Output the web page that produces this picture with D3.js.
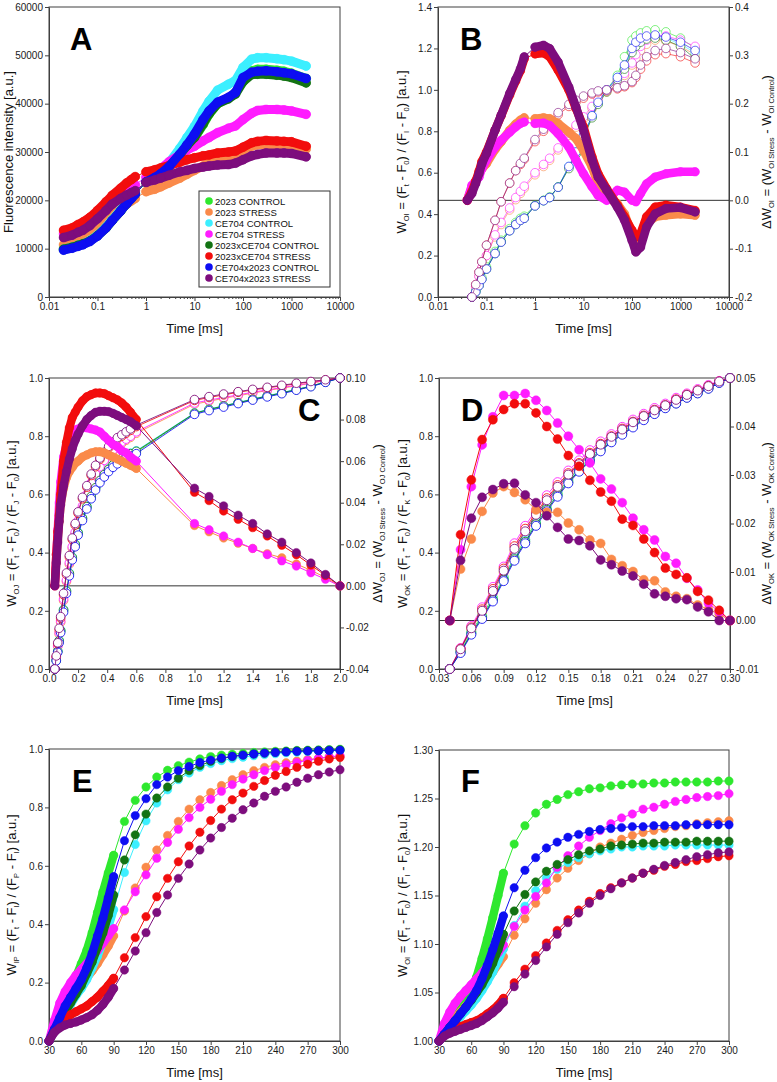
<!DOCTYPE html>
<html>
<head>
<meta charset="utf-8">
<title>OJIP transients</title>
<script src="https://cdn.jsdelivr.net/npm/d3@7/dist/d3.min.js"></script>
<style>
  body { margin: 0; background: #fff; }
  svg text { font-family: "Liberation Sans", Arial, sans-serif; }
</style>
</head>
<body>
<svg id="canvas" width="777" height="1082"></svg>
<script>
// series order = legend order of panel A
var seriesNames = ['2023 CONTROL', '2023 STRESS', 'CE704 CONTROL', 'CE704 STRESS',
  '2023xCE704 CONTROL', '2023xCE704 STRESS', 'CE704x2023 CONTROL', 'CE704x2023 STRESS'];
var seriesColors = ['#2ee82e', '#fa8a4a', '#3cefff', '#ff1cff', '#137313', '#f20d0d', '#0d0df2', '#7d0d7d'];
// the delta arrays only hold the stress lines, in this order
var stressRows = [1, 3, 5, 7];

// tick labels
var ticksLog = [0.01, 0.1, 1, 10, 100, 1000, 10000];
var ticksFluo = [0, 10000, 20000, 30000, 40000, 50000, 60000];
var ticksW14 = [0, 0.2, 0.4, 0.6, 0.8, 1.0, 1.2, 1.4];
var ticksDeltaB = [-0.2, -0.1, 0, 0.1, 0.2, 0.3, 0.4];
var ticksW10 = [0, 0.2, 0.4, 0.6, 0.8, 1.0];
var ticksTimeC = [0, 0.2, 0.4, 0.6, 0.8, 1.0, 1.2, 1.4, 1.6, 1.8, 2.0];
var ticksDeltaC = [-0.04, -0.02, 0, 0.02, 0.04, 0.06, 0.08, 0.10];
var ticksTimeD = [0.03, 0.06, 0.09, 0.12, 0.15, 0.18, 0.21, 0.24, 0.27, 0.30];
var ticksDeltaD = [-0.01, 0, 0.01, 0.02, 0.03, 0.04, 0.05];
var ticksTimeE = [30, 60, 90, 120, 150, 180, 210, 240, 270, 300];
var ticksWF = [1.00, 1.05, 1.10, 1.15, 1.20, 1.25, 1.30];

// A: fluorescence intensity
var timeA = [0.02, 0.03, 0.04, 0.05, 0.07, 0.1, 0.15, 0.2, 0.3, 0.4, 0.5, 0.6,
  1, 1.5, 2, 3, 5, 7, 10, 15, 20, 30, 50, 70, 100, 150, 200, 300, 500, 700, 1000, 2000];
var fluoA = [
  [9800, 10200, 10600, 10900, 11600, 12700, 14300, 15800, 17800, 19300, 20400, 21300, 23700, 24600, 25400, 26800, 29200, 31000, 32800, 35600, 37800, 40000, 41200, 42300, 45200, 46800, 47100, 47100, 46900, 46700, 46300, 45200],
  [10800, 11200, 11900, 12300, 13100, 14300, 15900, 17000, 18300, 19200, 19900, 20400, 21800, 22300, 22800, 23600, 24600, 25400, 26200, 27100, 27700, 28300, 28800, 29300, 30300, 31200, 31500, 31600, 31500, 31400, 31200, 30600],
  [9900, 10300, 10700, 11000, 11700, 12800, 14500, 16000, 18000, 19500, 20600, 21500, 24000, 25000, 26000, 27800, 30800, 33000, 35300, 38500, 40500, 42800, 44000, 44800, 47500, 49200, 49500, 49500, 49300, 49100, 48800, 47800],
  [13100, 13600, 14200, 14600, 15400, 16600, 18200, 19500, 20900, 21900, 22600, 23200, 24800, 25700, 26500, 28000, 29500, 30400, 31200, 32300, 33000, 34000, 34900, 35400, 36700, 38000, 38600, 38800, 38800, 38700, 38500, 37800],
  [9900, 10300, 10700, 11000, 11600, 12700, 14300, 15800, 17800, 19300, 20400, 21300, 23800, 24700, 25500, 27000, 29500, 31300, 33000, 35800, 37900, 40000, 41000, 42000, 44500, 46000, 46100, 46100, 45900, 45700, 45400, 44300],
  [13800, 14300, 15000, 15500, 16500, 17900, 19700, 21000, 22500, 23600, 24300, 24900, 25900, 26300, 26700, 27200, 27900, 28400, 28800, 29200, 29400, 29800, 30000, 30200, 31000, 31900, 32200, 32400, 32300, 32200, 32100, 31200],
  [9700, 10100, 10500, 10800, 11500, 12600, 14300, 15800, 17800, 19300, 20400, 21300, 23800, 24700, 25500, 27000, 29600, 31500, 33700, 36700, 38500, 40300, 41300, 42300, 45400, 46500, 46700, 46800, 46600, 46400, 46200, 45200],
  [12300, 12800, 13400, 13800, 14800, 16200, 17900, 19200, 20400, 21100, 21600, 22000, 23700, 24200, 24600, 25200, 25900, 26200, 26600, 26900, 27100, 27300, 27400, 27700, 28400, 29200, 29500, 29800, 29800, 29800, 29700, 29000]
];

// B: W_OI (open) and delta W_OI (filled)
var timeB = [0.04, 0.05, 0.06, 0.07, 0.08, 0.1, 0.15, 0.2, 0.3, 0.4, 0.5, 0.6,
  1, 1.5, 2, 3, 5, 7, 10, 15, 20, 30, 50, 70, 100, 120, 150, 200, 300, 500, 1000, 2000];
var woiB = [
  [null, 0, 0.03, 0.064, 0.095, 0.145, 0.22, 0.274, 0.33, 0.36, 0.38, 0.39, 0.443, 0.467, 0.483, 0.531, 0.628, 0.692, 0.772, 0.869, 0.933, 1.0, 1.07, 1.16, 1.24, 1.26, 1.275, 1.285, 1.29, 1.28, 1.25, 1.2],
  [null, 0, 0.05, 0.1, 0.14, 0.2, 0.29, 0.35, 0.42, 0.47, 0.5, 0.525, 0.59, 0.63, 0.66, 0.71, 0.78, 0.82, 0.86, 0.91, 0.95, 0.99, 1.03, 1.07, 1.12, 1.15, 1.19, 1.22, 1.24, 1.235, 1.21, 1.17],
  [null, 0, 0.025, 0.055, 0.085, 0.135, 0.21, 0.265, 0.32, 0.35, 0.37, 0.38, 0.44, 0.465, 0.48, 0.53, 0.63, 0.70, 0.78, 0.875, 0.94, 1.0, 1.06, 1.11, 1.19, 1.22, 1.24, 1.255, 1.26, 1.25, 1.22, 1.18],
  [null, 0, 0.05, 0.1, 0.14, 0.2, 0.3, 0.36, 0.43, 0.48, 0.51, 0.535, 0.6, 0.64, 0.67, 0.72, 0.79, 0.83, 0.87, 0.92, 0.96, 1.0, 1.04, 1.08, 1.13, 1.17, 1.21, 1.24, 1.26, 1.26, 1.24, 1.21],
  [null, 0, 0.025, 0.055, 0.085, 0.135, 0.21, 0.265, 0.32, 0.35, 0.37, 0.38, 0.44, 0.465, 0.48, 0.53, 0.62, 0.69, 0.77, 0.865, 0.93, 0.99, 1.05, 1.1, 1.18, 1.21, 1.23, 1.245, 1.25, 1.24, 1.21, 1.15],
  [null, 0, 0.06, 0.12, 0.17, 0.25, 0.37, 0.46, 0.55, 0.61, 0.64, 0.665, 0.75, 0.8, 0.83, 0.88, 0.92, 0.94, 0.96, 0.98, 0.99, 0.995, 1.005, 1.015, 1.035, 1.06, 1.1, 1.14, 1.17, 1.175, 1.16, 1.13],
  [null, 0, 0.025, 0.055, 0.085, 0.135, 0.21, 0.265, 0.32, 0.35, 0.37, 0.38, 0.44, 0.465, 0.48, 0.53, 0.63, 0.70, 0.78, 0.875, 0.94, 1.0, 1.06, 1.12, 1.2, 1.23, 1.25, 1.26, 1.265, 1.255, 1.23, 1.19],
  [null, 0, 0.06, 0.12, 0.17, 0.25, 0.37, 0.46, 0.55, 0.61, 0.645, 0.67, 0.76, 0.81, 0.84, 0.89, 0.93, 0.95, 0.97, 0.985, 0.995, 1.0, 1.01, 1.02, 1.04, 1.07, 1.12, 1.16, 1.19, 1.2, 1.18, 1.15]
];
var dwoiB = [
  [0, 0.028, 0.04, 0.055, 0.065, 0.076, 0.105, 0.121, 0.145, 0.158, 0.166, 0.171, 0.169, 0.171, 0.169, 0.159, 0.141, 0.128, 0.103, 0.069, 0.034, 0.007, -0.007, -0.028, -0.069, -0.086, -0.076, -0.048, -0.034, -0.031, -0.028, -0.031],
  [0, 0.031, 0.04, 0.048, 0.065, 0.083, 0.11, 0.124, 0.141, 0.152, 0.159, 0.162, 0.159, 0.16, 0.155, 0.138, 0.11, 0.083, 0.055, 0.028, 0.01, 0, 0.021, 0.017, 0, -0.003, 0.014, 0.034, 0.048, 0.055, 0.059, 0.059],
  [0, 0.018, 0.04, 0.06, 0.08, 0.1, 0.145, 0.175, 0.218, 0.247, 0.268, 0.293, 0.303, 0.305, 0.297, 0.269, 0.228, 0.19, 0.152, 0.09, 0.055, 0.024, -0.01, -0.034, -0.062, -0.076, -0.069, -0.034, -0.014, -0.01, -0.014, -0.021],
  [0, 0.014, 0.035, 0.055, 0.075, 0.097, 0.145, 0.176, 0.221, 0.25, 0.272, 0.297, 0.317, 0.321, 0.314, 0.286, 0.234, 0.193, 0.145, 0.083, 0.048, 0.021, -0.014, -0.041, -0.083, -0.107, -0.097, -0.055, -0.028, -0.017, -0.015, -0.024]
];

// C: W_OJ (open) and delta W_OJ (filled)
var timeC = [0.04, 0.05, 0.06, 0.07, 0.08, 0.10, 0.12, 0.14, 0.16, 0.18, 0.20, 0.23, 0.26, 0.29, 0.32, 0.35, 0.38, 0.41, 0.44, 0.47, 0.50, 0.53, 0.56, 0.60,
  1.0, 1.1, 1.2, 1.3, 1.4, 1.5, 1.6, 1.7, 1.8, 1.9, 2.0];
var wojC = [
  [0, 0.03, 0.06, 0.095, 0.13, 0.2, 0.265, 0.325, 0.38, 0.425, 0.465, 0.515, 0.555, 0.59, 0.62, 0.645, 0.665, 0.683, 0.698, 0.71, 0.72, 0.73, 0.737, 0.745, 0.878, 0.891, 0.903, 0.914, 0.926, 0.937, 0.948, 0.96, 0.971, 0.986, 1],
  [0, 0.038, 0.077, 0.12, 0.16, 0.235, 0.3, 0.36, 0.415, 0.465, 0.505, 0.555, 0.595, 0.635, 0.665, 0.69, 0.712, 0.732, 0.748, 0.763, 0.775, 0.786, 0.796, 0.81, 0.91, 0.92, 0.93, 0.939, 0.948, 0.957, 0.965, 0.973, 0.982, 0.991, 1],
  [0, 0.03, 0.062, 0.098, 0.134, 0.205, 0.27, 0.33, 0.385, 0.43, 0.47, 0.52, 0.56, 0.595, 0.625, 0.65, 0.67, 0.688, 0.703, 0.715, 0.725, 0.735, 0.742, 0.75, 0.88, 0.893, 0.905, 0.916, 0.928, 0.939, 0.95, 0.961, 0.972, 0.986, 1],
  [0, 0.04, 0.08, 0.125, 0.165, 0.24, 0.305, 0.365, 0.42, 0.47, 0.51, 0.56, 0.6, 0.64, 0.67, 0.695, 0.717, 0.737, 0.753, 0.768, 0.78, 0.79, 0.8, 0.815, 0.914, 0.924, 0.933, 0.942, 0.951, 0.959, 0.967, 0.975, 0.983, 0.992, 1],
  [0, 0.029, 0.061, 0.097, 0.132, 0.203, 0.268, 0.328, 0.383, 0.428, 0.468, 0.518, 0.558, 0.593, 0.623, 0.648, 0.668, 0.686, 0.701, 0.713, 0.723, 0.733, 0.74, 0.748, 0.879, 0.892, 0.904, 0.915, 0.927, 0.938, 0.949, 0.96, 0.972, 0.986, 1],
  [0, 0.043, 0.087, 0.135, 0.175, 0.255, 0.325, 0.385, 0.445, 0.495, 0.535, 0.585, 0.625, 0.665, 0.695, 0.72, 0.74, 0.76, 0.775, 0.79, 0.8, 0.81, 0.82, 0.833, 0.923, 0.933, 0.942, 0.951, 0.959, 0.966, 0.973, 0.98, 0.987, 0.993, 1],
  [0, 0.028, 0.057, 0.09, 0.125, 0.195, 0.26, 0.32, 0.375, 0.42, 0.46, 0.51, 0.55, 0.585, 0.615, 0.64, 0.66, 0.678, 0.693, 0.705, 0.715, 0.725, 0.732, 0.74, 0.875, 0.888, 0.9, 0.912, 0.924, 0.935, 0.946, 0.958, 0.97, 0.985, 1],
  [0, 0.045, 0.09, 0.14, 0.18, 0.26, 0.33, 0.39, 0.45, 0.5, 0.54, 0.59, 0.63, 0.67, 0.7, 0.725, 0.745, 0.765, 0.78, 0.795, 0.805, 0.815, 0.825, 0.838, 0.926, 0.936, 0.945, 0.953, 0.961, 0.968, 0.975, 0.982, 0.988, 0.994, 1]
];
var dwojC = [
  [0, 0.011, 0.022, 0.031, 0.039, 0.047, 0.052, 0.055, 0.057, 0.059, 0.06, 0.062, 0.063, 0.064, 0.0645, 0.0645, 0.064, 0.063, 0.062, 0.061, 0.06, 0.059, 0.058, 0.0565, 0.029, 0.026, 0.023, 0.0205, 0.018, 0.0155, 0.0135, 0.0105, 0.0075, 0.004, 0],
  [0, 0.015, 0.027, 0.04, 0.05, 0.062, 0.068, 0.071, 0.074, 0.075, 0.0755, 0.076, 0.076, 0.0755, 0.075, 0.074, 0.072, 0.07, 0.068, 0.067, 0.065, 0.064, 0.062, 0.06, 0.03, 0.027, 0.024, 0.021, 0.018, 0.015, 0.012, 0.0095, 0.0063, 0.0032, 0],
  [0, 0.015, 0.026, 0.034, 0.044, 0.06, 0.069, 0.076, 0.081, 0.0835, 0.086, 0.089, 0.091, 0.092, 0.0928, 0.0928, 0.0925, 0.0915, 0.0905, 0.0895, 0.088, 0.086, 0.0835, 0.08, 0.045, 0.041, 0.036, 0.032, 0.028, 0.024, 0.0195, 0.015, 0.01, 0.005, 0],
  [0, 0.011, 0.021, 0.031, 0.039, 0.048, 0.055, 0.061, 0.066, 0.07, 0.073, 0.077, 0.08, 0.082, 0.0835, 0.084, 0.084, 0.0838, 0.083, 0.082, 0.081, 0.08, 0.079, 0.077, 0.047, 0.043, 0.0385, 0.034, 0.03, 0.025, 0.021, 0.016, 0.011, 0.0055, 0]
];

// D: W_OK (open) and delta W_OK (filled)
var timeD = [0.04, 0.05, 0.06, 0.07, 0.08, 0.09, 0.10, 0.11, 0.12, 0.13, 0.14, 0.15, 0.16, 0.17, 0.18,
  0.19, 0.20, 0.21, 0.22, 0.23, 0.24, 0.25, 0.26, 0.27, 0.28, 0.29, 0.30];
var wokD = [
  [0, 0.062, 0.128, 0.185, 0.245, 0.315, 0.385, 0.445, 0.505, 0.555, 0.605, 0.65, 0.69, 0.725, 0.76, 0.79, 0.815, 0.84, 0.863, 0.883, 0.902, 0.918, 0.937, 0.952, 0.967, 0.985, 1],
  [0, 0.066, 0.136, 0.197, 0.262, 0.332, 0.405, 0.465, 0.522, 0.572, 0.62, 0.662, 0.7, 0.735, 0.767, 0.795, 0.82, 0.845, 0.867, 0.887, 0.904, 0.922, 0.94, 0.955, 0.97, 0.987, 1],
  [0, 0.06, 0.125, 0.18, 0.24, 0.31, 0.38, 0.44, 0.5, 0.55, 0.6, 0.645, 0.685, 0.72, 0.755, 0.785, 0.81, 0.835, 0.86, 0.88, 0.9, 0.915, 0.935, 0.95, 0.965, 0.985, 1],
  [0, 0.072, 0.148, 0.212, 0.282, 0.352, 0.432, 0.492, 0.547, 0.597, 0.642, 0.682, 0.717, 0.752, 0.782, 0.807, 0.832, 0.857, 0.877, 0.897, 0.912, 0.932, 0.947, 0.962, 0.976, 0.99, 1],
  [0, 0.058, 0.122, 0.177, 0.237, 0.307, 0.377, 0.437, 0.497, 0.547, 0.597, 0.642, 0.682, 0.717, 0.752, 0.782, 0.808, 0.833, 0.858, 0.878, 0.898, 0.913, 0.933, 0.948, 0.964, 0.984, 1],
  [0, 0.07, 0.143, 0.205, 0.275, 0.345, 0.422, 0.482, 0.537, 0.587, 0.632, 0.673, 0.708, 0.743, 0.774, 0.8, 0.826, 0.85, 0.871, 0.891, 0.907, 0.927, 0.943, 0.958, 0.973, 0.988, 1],
  [0, 0.055, 0.118, 0.172, 0.232, 0.302, 0.372, 0.432, 0.492, 0.542, 0.592, 0.638, 0.678, 0.713, 0.748, 0.779, 0.805, 0.83, 0.855, 0.876, 0.896, 0.912, 0.932, 0.947, 0.963, 0.983, 1],
  [0, 0.068, 0.14, 0.2, 0.268, 0.338, 0.413, 0.473, 0.53, 0.58, 0.626, 0.668, 0.704, 0.739, 0.771, 0.798, 0.823, 0.848, 0.869, 0.889, 0.906, 0.925, 0.942, 0.957, 0.972, 0.988, 1]
];
var dwokD = [
  [0, 0.0106, 0.0168, 0.0225, 0.0263, 0.0276, 0.0264, 0.0249, 0.0228, 0.0223, 0.0223, 0.0201, 0.0187, 0.0166, 0.0159, 0.0126, 0.0113, 0.0101, 0.0084, 0.0082, 0.0059, 0.005, 0.0045, 0.0032, 0.0023, 0.0013, 0],
  [0, 0.0146, 0.0276, 0.0362, 0.042, 0.0464, 0.0464, 0.0468, 0.0454, 0.0433, 0.0407, 0.038, 0.0352, 0.0325, 0.0292, 0.0271, 0.0243, 0.0211, 0.0187, 0.0166, 0.0132, 0.0118, 0.0087, 0.0063, 0.0036, 0.0018, 0],
  [0, 0.0177, 0.029, 0.0373, 0.0414, 0.0435, 0.0447, 0.0447, 0.0428, 0.04, 0.0374, 0.034, 0.0318, 0.0289, 0.0265, 0.0246, 0.0209, 0.0196, 0.0168, 0.014, 0.0108, 0.0095, 0.0088, 0.006, 0.0042, 0.0021, 0],
  [0, 0.0124, 0.0211, 0.0254, 0.027, 0.0282, 0.0283, 0.0259, 0.0243, 0.0216, 0.0192, 0.0168, 0.0165, 0.0154, 0.0125, 0.0115, 0.0102, 0.0092, 0.0075, 0.0055, 0.005, 0.0045, 0.0043, 0.0028, 0.0018, 0, 0]
];

// E: W_IP, F: W_OI on the 30-300 ms window
var timeEF = [30, 35, 40, 45, 50, 55, 60, 65, 70, 75, 80, 85, 90,
  100, 110, 120, 130, 140, 150, 160, 170, 180, 190, 200, 210, 220, 230, 240, 250, 260, 270, 280, 290, 300];
var wipE = [
  [0, 0.04, 0.09, 0.14, 0.18, 0.22, 0.265, 0.31, 0.37, 0.44, 0.51, 0.575, 0.636, 0.752, 0.824, 0.87, 0.904, 0.927, 0.943, 0.955, 0.966, 0.974, 0.979, 0.982, 0.985, 0.988, 0.99, 0.992, 0.993, 0.995, 0.996, 0.997, 0.998, 0.999],
  [0, 0.05, 0.09, 0.12, 0.145, 0.17, 0.19, 0.215, 0.24, 0.265, 0.295, 0.325, 0.36, 0.445, 0.524, 0.595, 0.654, 0.704, 0.752, 0.794, 0.826, 0.851, 0.875, 0.895, 0.912, 0.926, 0.937, 0.946, 0.953, 0.959, 0.964, 0.968, 0.972, 0.975],
  [0, 0.035, 0.065, 0.095, 0.125, 0.155, 0.18, 0.21, 0.25, 0.29, 0.34, 0.39, 0.45, 0.577, 0.673, 0.754, 0.815, 0.86, 0.895, 0.918, 0.937, 0.95, 0.96, 0.967, 0.972, 0.977, 0.981, 0.984, 0.987, 0.989, 0.991, 0.993, 0.994, 0.995],
  [0, 0.07, 0.13, 0.17, 0.2, 0.225, 0.245, 0.265, 0.285, 0.31, 0.335, 0.36, 0.385, 0.449, 0.511, 0.569, 0.626, 0.68, 0.725, 0.765, 0.8, 0.828, 0.855, 0.878, 0.897, 0.912, 0.926, 0.937, 0.946, 0.954, 0.961, 0.968, 0.973, 0.977],
  [0, 0.035, 0.07, 0.1, 0.13, 0.16, 0.19, 0.23, 0.27, 0.32, 0.37, 0.43, 0.5, 0.62, 0.706, 0.777, 0.832, 0.87, 0.9, 0.926, 0.943, 0.958, 0.967, 0.974, 0.979, 0.983, 0.986, 0.989, 0.991, 0.993, 0.994, 0.995, 0.996, 0.997],
  [0, 0.04, 0.065, 0.08, 0.09, 0.1, 0.11, 0.12, 0.135, 0.15, 0.17, 0.19, 0.215, 0.285, 0.354, 0.426, 0.494, 0.557, 0.614, 0.668, 0.715, 0.755, 0.794, 0.826, 0.849, 0.872, 0.892, 0.91, 0.923, 0.937, 0.948, 0.958, 0.966, 0.971],
  [0, 0.04, 0.08, 0.12, 0.15, 0.18, 0.21, 0.25, 0.3, 0.36, 0.42, 0.49, 0.563, 0.686, 0.772, 0.83, 0.878, 0.904, 0.926, 0.94, 0.954, 0.962, 0.969, 0.975, 0.979, 0.983, 0.986, 0.988, 0.99, 0.992, 0.993, 0.994, 0.995, 0.996],
  [0, 0.03, 0.045, 0.055, 0.06, 0.065, 0.072, 0.08, 0.09, 0.105, 0.125, 0.15, 0.18, 0.243, 0.308, 0.371, 0.44, 0.5, 0.557, 0.606, 0.654, 0.695, 0.731, 0.763, 0.792, 0.815, 0.838, 0.855, 0.87, 0.886, 0.9, 0.912, 0.921, 0.929]
];
var woiF = [
  [1, 1.008, 1.016, 1.024, 1.032, 1.041, 1.052, 1.066, 1.085, 1.105, 1.127, 1.15, 1.173, 1.203, 1.222, 1.235, 1.244, 1.249, 1.254, 1.257, 1.26, 1.261, 1.263, 1.264, 1.265, 1.265, 1.266, 1.266, 1.267, 1.267, 1.267, 1.267, 1.268, 1.268],
  [1, 1.01, 1.018, 1.024, 1.03, 1.036, 1.042, 1.049, 1.056, 1.063, 1.071, 1.079, 1.087, 1.109, 1.126, 1.142, 1.156, 1.168, 1.178, 1.186, 1.193, 1.2, 1.204, 1.208, 1.212, 1.215, 1.217, 1.219, 1.221, 1.222, 1.224, 1.225, 1.226, 1.227],
  [1, 1.007, 1.013, 1.019, 1.025, 1.031, 1.037, 1.044, 1.052, 1.061, 1.071, 1.083, 1.095, 1.119, 1.139, 1.155, 1.168, 1.177, 1.184, 1.189, 1.193, 1.196, 1.198, 1.2, 1.2, 1.201, 1.201, 1.201, 1.202, 1.202, 1.202, 1.202, 1.202, 1.202],
  [1, 1.018, 1.03, 1.039, 1.046, 1.052, 1.058, 1.064, 1.07, 1.077, 1.084, 1.091, 1.099, 1.118, 1.135, 1.149, 1.163, 1.179, 1.191, 1.201, 1.21, 1.217, 1.224, 1.23, 1.234, 1.239, 1.241, 1.244, 1.247, 1.249, 1.251, 1.252, 1.253, 1.255],
  [1, 1.007, 1.014, 1.021, 1.028, 1.035, 1.042, 1.05, 1.058, 1.068, 1.08, 1.094, 1.11, 1.134, 1.151, 1.164, 1.175, 1.182, 1.187, 1.192, 1.196, 1.198, 1.201, 1.202, 1.203, 1.204, 1.204, 1.205, 1.205, 1.205, 1.206, 1.206, 1.206, 1.206],
  [1, 1.007, 1.011, 1.013, 1.015, 1.017, 1.019, 1.021, 1.024, 1.028, 1.032, 1.037, 1.044, 1.06, 1.074, 1.088, 1.101, 1.114, 1.125, 1.135, 1.144, 1.152, 1.158, 1.163, 1.168, 1.173, 1.176, 1.18, 1.182, 1.185, 1.186, 1.188, 1.19, 1.191],
  [1, 1.007, 1.014, 1.021, 1.028, 1.035, 1.043, 1.052, 1.064, 1.078, 1.094, 1.111, 1.129, 1.158, 1.176, 1.189, 1.199, 1.205, 1.21, 1.213, 1.216, 1.218, 1.219, 1.22, 1.221, 1.221, 1.222, 1.222, 1.222, 1.223, 1.223, 1.223, 1.223, 1.223],
  [1, 1.005, 1.008, 1.01, 1.012, 1.014, 1.016, 1.018, 1.021, 1.025, 1.029, 1.034, 1.04, 1.056, 1.069, 1.083, 1.097, 1.11, 1.122, 1.132, 1.142, 1.15, 1.157, 1.163, 1.168, 1.173, 1.177, 1.181, 1.184, 1.187, 1.19, 1.192, 1.194, 1.195]
];

var svg = d3.select('#canvas');
var ink = '#404040';

var fmt = {
  plain: function (d) { return String(d); },
  f1: function (d) { return d.toFixed(1); },
  f2: function (d) { return d.toFixed(2); }
};

// label with subscripts, parts = [[text, isSub], ...]
function richLabel(g, x, y, parts, rotate) {
  var t = g.append('text')
    .attr('transform', 'translate(' + x + ',' + y + ')' + (rotate ? ' rotate(-90)' : ''))
    .attr('text-anchor', 'middle')
    .attr('fill', '#111')
    .style('font-size', '13px');
  var wasSub = false;
  parts.forEach(function (p) {
    var s = t.append('tspan').text(p[0]);
    if (p[1]) s.style('font-size', '7.5px');
    if (p[1] && !wasSub) s.attr('dy', 3);
    if (!p[1] && wasSub) s.attr('dy', -3);
    wasSub = p[1];
  });
}

function setupPanel(p) {
  var x = (p.log ? d3.scaleLog() : d3.scaleLinear()).domain(p.xDomain).range([p.left, p.right]);
  var y = d3.scaleLinear().domain(p.yDomain).range([p.bottom, p.top]);
  var y2 = p.y2Domain ? d3.scaleLinear().domain(p.y2Domain).range([p.bottom, p.top]) : null;
  var g = svg.append('g');

  g.append('g')
    .attr('transform', 'translate(0,' + p.bottom + ')')
    .call(d3.axisBottom(x).tickValues(p.xTicks).tickFormat(p.xFormat).tickSize(4).tickPadding(2).tickSizeOuter(0));
  if (p.log) {
    var minor = [];
    for (var e = -2; e < 4; e++) {
      for (var m = 2; m < 10; m++) minor.push(m * Math.pow(10, e));
    }
    g.append('g')
      .attr('transform', 'translate(0,' + p.bottom + ')')
      .call(d3.axisBottom(x).tickValues(minor).tickFormat('').tickSize(2).tickSizeOuter(0));
  }
  g.append('g')
    .attr('transform', 'translate(' + p.left + ',0)')
    .call(d3.axisLeft(y).tickValues(p.yTicks).tickFormat(p.yFormat).tickSize(4).tickPadding(2).tickSizeOuter(0));
  if (y2) {
    g.append('g')
      .attr('transform', 'translate(' + p.right + ',0)')
      .call(d3.axisRight(y2).tickValues(p.y2Ticks).tickFormat(p.y2Format).tickSize(4).tickPadding(2).tickSizeOuter(0));
  }
  g.selectAll('.domain').attr('stroke', ink);
  g.selectAll('.tick line').attr('stroke', ink);
  g.selectAll('.tick text').attr('fill', '#1a1a1a').style('font-size', '10px');

  g.append('rect')
    .attr('x', p.left).attr('y', p.top)
    .attr('width', p.right - p.left).attr('height', p.bottom - p.top)
    .attr('fill', 'none').attr('stroke', ink);
  if (y2) {
    g.append('line')
      .attr('x1', p.left).attr('x2', p.right)
      .attr('y1', y2(0)).attr('y2', y2(0))
      .attr('stroke', '#333');
  }

  g.append('text')
    .attr('x', (p.left + p.right) / 2).attr('y', p.bottom + 36)
    .attr('text-anchor', 'middle').style('font-size', '13px').attr('fill', '#111')
    .text('Time [ms]');
  richLabel(g, p.yLabelX, (p.top + p.bottom) / 2, p.yLabel, true);
  if (p.y2Label) richLabel(g, p.y2LabelX, (p.top + p.bottom) / 2, p.y2Label, true);

  var layer = g.append('g');
  g.append('text')
    .attr('x', p.letterX).attr('y', p.letterY)
    .style('font-size', '31px').style('font-weight', 'bold').attr('fill', '#000')
    .text(p.letter);
  return { g: g, x: x, y: y, y2: y2, layer: layer };
}

function drawSeries(layer, x, y, ts, vs, color, o) {
  var pts = [];
  ts.forEach(function (t, i) { if (vs[i] !== null) pts.push([t, vs[i]]); });
  var line = d3.line().x(function (d) { return x(d[0]); }).y(function (d) { return y(d[1]); });
  var op = o.op || 1;
  layer.append('path').attr('d', line(pts))
    .attr('fill', 'none').attr('stroke', color).attr('stroke-width', 1).attr('stroke-opacity', op);
  // dense recording stretches: the markers merge into a band
  (o.bands || []).forEach(function (b) {
    var seg = pts.filter(function (d) { return d[0] >= b[0] && d[0] <= b[1]; });
    layer.append('path').attr('d', line(seg))
      .attr('fill', 'none').attr('stroke', color).attr('stroke-width', o.r * 2)
      .attr('stroke-linecap', 'round').attr('stroke-linejoin', 'round');
  });
  layer.append('g').selectAll('circle')
    .data(pts)
    .enter()
    .append('circle')
    .attr('cx', function (d) { return x(d[0]); })
    .attr('cy', function (d) { return y(d[1]); })
    .attr('r', o.r)
    .attr('fill', o.open ? '#fff' : color)
    .attr('stroke', color)
    .attr('stroke-width', o.open ? 1 : 0.5)
    .attr('stroke-opacity', op);
}

var subOI = [['W', 0], ['OI', 1], [' = (F', 0], ['t', 1], [' - F', 0], ['0', 1], [') / (F', 0], ['I', 1], [' - F', 0], ['0', 1], [') [a.u.]', 0]];

// ---- A
var pA = setupPanel({
  left: 49, right: 340, top: 7, bottom: 297, log: true,
  xDomain: [0.01, 10000], yDomain: [0, 60000],
  xTicks: ticksLog, xFormat: fmt.plain, yTicks: ticksFluo, yFormat: fmt.plain,
  yLabel: [['Fluorescence intensity [a.u.]', 0]], yLabelX: 13,
  letter: 'A', letterX: 70, letterY: 50
});
fluoA.forEach(function (vals, i) {
  drawSeries(pA.layer, pA.x, pA.y, timeA, vals, seriesColors[i], { r: 4.5, bands: [[0.02, 0.6], [1, 2000]] });
});
var legend = pA.g.append('g');
legend.append('rect').attr('x', 199).attr('y', 191).attr('width', 131).attr('height', 96)
  .attr('fill', '#fff').attr('stroke', '#333');
seriesNames.forEach(function (name, i) {
  var cy = 201 + i * 11;
  legend.append('circle').attr('cx', 209).attr('cy', cy).attr('r', 3.8).attr('fill', seriesColors[i]);
  legend.append('text').attr('x', 215).attr('y', cy + 3.5).style('font-size', '9.5px').attr('fill', '#111').text(name);
});

// ---- B
var pB = setupPanel({
  left: 438, right: 729, top: 7, bottom: 297, log: true,
  xDomain: [0.01, 10000], yDomain: [0, 1.4], y2Domain: [-0.2, 0.4],
  xTicks: ticksLog, xFormat: fmt.plain, yTicks: ticksW14, yFormat: fmt.f1,
  y2Ticks: ticksDeltaB, y2Format: fmt.f1,
  yLabel: subOI, yLabelX: 406,
  y2Label: [['\u0394W', 0], ['OI', 1], [' = (W', 0], ['OI Stress', 1], [' - W', 0], ['OI Control', 1], [')', 0]], y2LabelX: 771,
  letter: 'B', letterX: 460, letterY: 50
});
woiB.forEach(function (vals, i) {
  drawSeries(pB.layer, pB.x, pB.y, timeB, vals, seriesColors[i], { r: 4.3, open: true, op: 0.6 });
});
dwoiB.forEach(function (vals, k) {
  drawSeries(pB.layer, pB.x, pB.y2, timeB, vals, seriesColors[stressRows[k]], { r: 4.3, bands: [[0.04, 0.6], [1, 2000]] });
});

// ---- C
var pC = setupPanel({
  left: 49, right: 340, top: 378, bottom: 669,
  xDomain: [0, 2], yDomain: [0, 1], y2Domain: [-0.04, 0.10],
  xTicks: ticksTimeC, xFormat: fmt.f1, yTicks: ticksW10, yFormat: fmt.f1,
  y2Ticks: ticksDeltaC, y2Format: fmt.f2,
  yLabel: [['W', 0], ['OJ', 1], [' = (F', 0], ['t', 1], [' - F', 0], ['0', 1], [') / (F', 0], ['J', 1], [' - F', 0], ['0', 1], [') [a.u.]', 0]], yLabelX: 16,
  y2Label: [['\u0394W', 0], ['OJ', 1], [' = (W', 0], ['OJ Stress', 1], [' - W', 0], ['OJ Control', 1], [')', 0]], y2LabelX: 382,
  letter: 'C', letterX: 298, letterY: 421
});
wojC.forEach(function (vals, i) {
  drawSeries(pC.layer, pC.x, pC.y, timeC, vals, seriesColors[i], { r: 4.3, open: true, op: 0.85 });
});
dwojC.forEach(function (vals, k) {
  drawSeries(pC.layer, pC.x, pC.y2, timeC, vals, seriesColors[stressRows[k]], { r: 4.2, bands: [[0.04, 0.6]] });
});

// ---- D
var pD = setupPanel({
  left: 439, right: 730, top: 378, bottom: 669,
  xDomain: [0.03, 0.30], yDomain: [0, 1], y2Domain: [-0.01, 0.05],
  xTicks: ticksTimeD, xFormat: fmt.f2, yTicks: ticksW10, yFormat: fmt.f1,
  y2Ticks: ticksDeltaD, y2Format: fmt.f2,
  yLabel: [['W', 0], ['OK', 1], [' = (F', 0], ['t', 1], [' - F', 0], ['0', 1], [') / (F', 0], ['K', 1], [' - F', 0], ['0', 1], [') [a.u.]', 0]], yLabelX: 407,
  y2Label: [['\u0394W', 0], ['OK', 1], [' = (W', 0], ['OK Stress', 1], [' - W', 0], ['OK Control', 1], [')', 0]], y2LabelX: 771,
  letter: 'D', letterX: 461, letterY: 421
});
wokD.forEach(function (vals, i) {
  drawSeries(pD.layer, pD.x, pD.y, timeD, vals, seriesColors[i], { r: 4.5, open: true, op: 0.85 });
});
dwokD.forEach(function (vals, k) {
  drawSeries(pD.layer, pD.x, pD.y2, timeD, vals, seriesColors[stressRows[k]], { r: 4.5 });
});

// ---- E
var pE = setupPanel({
  left: 49, right: 340, top: 749, bottom: 1041,
  xDomain: [30, 300], yDomain: [0, 1],
  xTicks: ticksTimeE, xFormat: fmt.plain, yTicks: ticksW10, yFormat: fmt.f1,
  yLabel: [['W', 0], ['IP', 1], [' = (F', 0], ['t', 1], [' - F', 0], ['I', 1], [') / (F', 0], ['P', 1], [' - F', 0], ['I', 1], [') [a.u.]', 0]], yLabelX: 16,
  letter: 'E', letterX: 72, letterY: 792
});
wipE.forEach(function (vals, i) {
  drawSeries(pE.layer, pE.x, pE.y, timeEF, vals, seriesColors[i], { r: 4.2, bands: [[30, 90]] });
});

// ---- F
var pF = setupPanel({
  left: 439, right: 729, top: 750, bottom: 1041,
  xDomain: [30, 300], yDomain: [1, 1.3],
  xTicks: ticksTimeE, xFormat: fmt.plain, yTicks: ticksWF, yFormat: fmt.f2,
  yLabel: subOI, yLabelX: 407,
  letter: 'F', letterX: 461, letterY: 792
});
woiF.forEach(function (vals, i) {
  drawSeries(pF.layer, pF.x, pF.y, timeEF, vals, seriesColors[i], { r: 4.2, bands: [[30, 90]] });
});
</script>
</body>
</html>
